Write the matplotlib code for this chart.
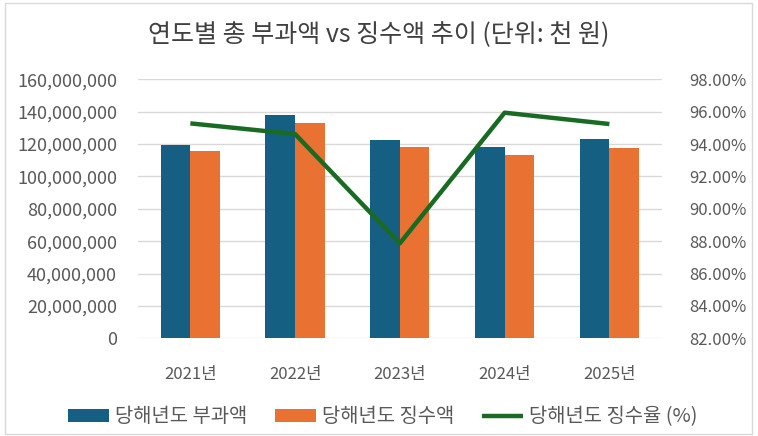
import matplotlib
matplotlib.use('Agg')
import matplotlib.pyplot as plt
import matplotlib.ticker as mticker
from matplotlib.patches import Rectangle
import numpy as np

plt.rcParams['font.family'] = ['Noto Sans CJK KR', 'DejaVu Sans']

# data (단위: 천 원)
years = ['2021년', '2022년', '2023년', '2024년', '2025년']
levied = [119200000, 138000000, 122500000, 118000000, 123400000]
collected = [115700000, 133000000, 118000000, 113100000, 117800000]
rate = [95.28, 94.62, 87.87, 95.94, 95.24]

blue = '#156082'
orange = '#E97132'
green = '#196B24'
txt = '#595959'

fig = plt.figure(figsize=(7.58, 4.36), dpi=100)
ax = fig.add_axes([0.182, 0.224, 0.691, 0.594])
ax2 = ax.twinx()

x = np.arange(len(years))
w = 0.283
ax.bar(x - w/2, levied, w, color=blue, label='당해년도 부과액', zorder=2)
ax.bar(x + w/2, collected, w, color=orange, label='당해년도 징수액', zorder=2)
ax2.plot(x, rate, color=green, lw=3.2, label='당해년도 징수율 (%)', solid_capstyle='butt')

ax.set_xlim(-0.5, len(years) - 0.5)
ax.set_ylim(0, 160000000)
ax.set_yticks(np.arange(0, 160000001, 20000000))
ax.yaxis.set_major_formatter(mticker.FuncFormatter(lambda v, p: f'{int(v):,}'))
ax.grid(axis='y', color='#D9D9D9', lw=1, zorder=0)
ax.set_xticks(x)
ax.set_xticklabels(years)

ax2.set_ylim(82, 98)
ax2.set_yticks(np.arange(82, 98.1, 2))
ax2.yaxis.set_major_formatter(mticker.FuncFormatter(lambda v, p: f'{v:.2f}%'))

for a in (ax, ax2):
    for s in a.spines.values():
        s.set_visible(False)
    a.tick_params(length=0, colors=txt, labelsize=12)
ax.tick_params(axis='y', labelsize=13, pad=15)
ax.tick_params(axis='x', pad=20)
ax2.tick_params(axis='y', pad=20)

fig.text(0.5, 0.922, '연도별 총 부과액 vs 징수액 추이 (단위: 천 원)', fontsize=18,
         color='#404040', ha='center', va='center')

h1, l1 = ax.get_legend_handles_labels()
h2, l2 = ax2.get_legend_handles_labels()
fig.legend(h1 + h2, l1 + l2, loc='center', bbox_to_anchor=(0.505, 0.044), ncol=3,
           frameon=False, fontsize=14.3, labelcolor=txt, handlelength=2.05,
           handleheight=0.6, handletextpad=0.3, columnspacing=1.4)

fig.patches.append(Rectangle((0.006, 0.004), 0.986, 0.99, transform=fig.transFigure,
                             fill=False, edgecolor='#D9D9D9', lw=1))

fig.savefig('out.png', dpi=100)
